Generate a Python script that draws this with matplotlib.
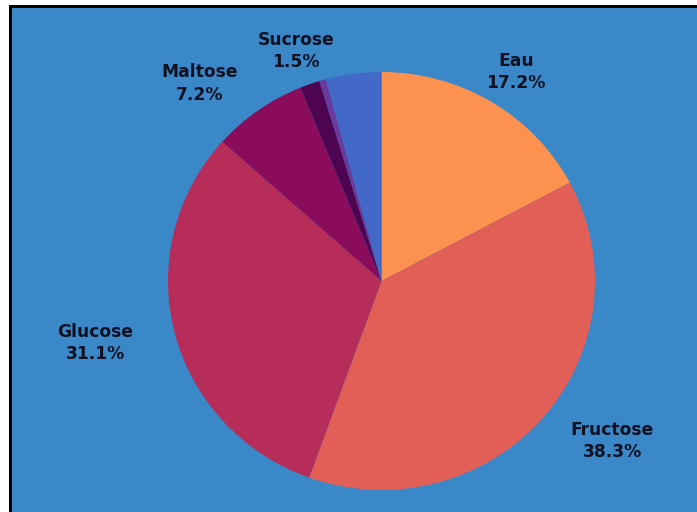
import matplotlib.pyplot as plt
from matplotlib.patches import Rectangle

# composition values (percent), clockwise from the top
labels = ['Eau', 'Fructose', 'Glucose', 'Maltose', 'Sucrose', '', '']
values = [17.2, 38.3, 31.1, 7.2, 1.5, 0.5, 4.2]
colors = ['#fd914f', '#e25f57', '#b72d5a', '#8a0c5a', '#4d0552', '#6a3b9e', '#4268c8']

# label positions in pie units (radius = 1)
label_pos = {
    'Eau': (0.63, 1.00),
    'Fructose': (1.08, -0.765),
    'Glucose': (-1.34, -0.295),
    'Maltose': (-0.85, 0.945),
    'Sucrose': (-0.40, 1.10),
}

W, H = 697, 512
fig = plt.figure(figsize=(W / 100, H / 100), dpi=100)
fig.patch.set_facecolor('white')

# blue panel with black top/left edge
fig.patches.append(Rectangle((9 / W, 0), 1, 1 - 5 / H, transform=fig.transFigure,
                             facecolor='black', edgecolor='none', zorder=-2))
fig.patches.append(Rectangle((12 / W, 0), 1, 1 - 8 / H, transform=fig.transFigure,
                             facecolor='#3a88c8', edgecolor='none', zorder=-1))

# pie is slightly wider than tall in the reference
cx, cy, rx, ry = 381.5, 281, 213.5, 209
ax = fig.add_axes([(cx - rx) / W, (H - cy - ry) / H, 2 * rx / W, 2 * ry / H])
ax.set_facecolor('none')

ax.pie(values, colors=colors, startangle=90, counterclock=False, radius=1,
       wedgeprops=dict(linewidth=0))
ax.set_xlim(-1, 1)
ax.set_ylim(-1, 1)
ax.set_aspect('auto')
ax.axis('off')

for name, val in zip(labels, values):
    if not name:
        continue
    x, y = label_pos[name]
    ax.text(x, y, '%s\n%.1f%%' % (name, val), ha='center', va='center',
            fontsize=12.3, fontweight='bold', color='#111122',
            linespacing=1.3, clip_on=False)

fig.savefig('out.png', dpi=100)
